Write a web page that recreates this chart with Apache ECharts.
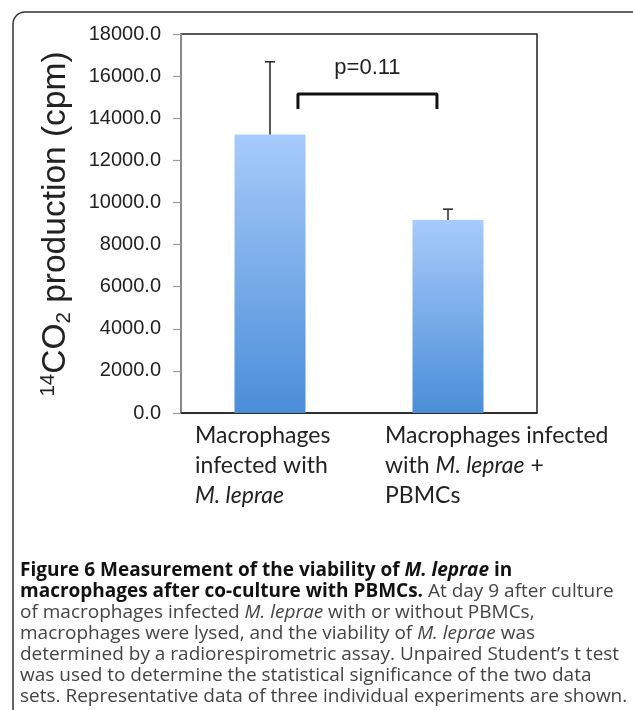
<!DOCTYPE html>
<html>
<head>
<meta charset="utf-8">
<script src="https://cdn.jsdelivr.net/npm/echarts@6/dist/echarts.min.js"></script>
<style>html,body{margin:0;padding:0;background:#fff}#c{width:633px;height:710px}</style>
</head>
<body>
<div id="c"></div>
<script>
// ---- data ----
var categories = ["Macrophages infected with M. leprae", "Macrophages infected with M. leprae + PBMCs"];
var values = [13230, 9170];
var errorUpper = [16680, 9680];
var yMin = 0, yMax = 18000, yStep = 2000;
var bracketX = [0.157, 0.938];
var bracketY = [14440, 15150];
var pLabel = "p=0.11";

var chart = echarts.init(document.getElementById('c'), null, {renderer:'canvas'});

var errData = values.map(function(v,i){ return [i, v, errorUpper[i]]; });
var bracketData = [[bracketX[0], bracketY[0]],[bracketX[0], bracketY[1]],[bracketX[1], bracketY[1]],[bracketX[1], bracketY[0]]];

var option = {
  animation:false,
  grid:{left:181, top:34, right:96, bottom:297, show:true, borderColor:'#222', borderWidth:1.5, backgroundColor:'transparent'},
  xAxis:[
    {type:'category', data:categories, axisLine:{lineStyle:{color:'#222', width:1.5}}, axisTick:{show:false}, axisLabel:{show:false}},
    {type:'value', min:-0.5, max:1.5, show:false}
  ],
  yAxis:{type:'value', min:yMin, max:yMax, interval:yStep,
    splitLine:{show:false},
    axisLine:{show:true, onZero:false, lineStyle:{color:'#9a9a9a', width:1.5}},
    axisTick:{show:true, length:8, lineStyle:{color:'#9a9a9a', width:1.2}},
    axisLabel:{margin:20, formatter:function(v){return v.toFixed(1);}, fontFamily:'Liberation Sans, Arial', fontSize:20, color:'#222'}
  },
  series:[
    {type:'bar', data:values, barWidth:71, z:2,
     itemStyle:{color:new echarts.graphic.LinearGradient(0,0,0,1,[{offset:0,color:'#a8cbfa'},{offset:1,color:'#4a8ed8'}])}},
    {type:'custom', data:errData, z:3, encode:{x:0,y:[1,2]},
     renderItem:function(params, api){
       var x = api.value(0);
       var p0 = api.coord([x, api.value(1)]);
       var p1 = api.coord([x, api.value(2)]);
       var hw = 5;
       return {type:'group', children:[
         {type:'line', shape:{x1:p0[0],y1:p0[1],x2:p1[0],y2:p1[1]}, style:{stroke:'#222', lineWidth:1.5}},
         {type:'line', shape:{x1:p1[0]-hw,y1:p1[1],x2:p1[0]+hw,y2:p1[1]}, style:{stroke:'#222', lineWidth:1.5}}
       ]};
     }},
    {type:'line', xAxisIndex:1, data:bracketData, symbol:'none', z:4,
     lineStyle:{color:'#111', width:3}}
  ],
  graphic:[]
};
chart.setOption(option);

var g = [];
g.push({type:'rect', shape:{x:13,y:12,width:720,height:760,r:12}, style:{fill:'none', stroke:'#333', lineWidth:1.5}, z:0});
var pc = chart.convertToPixel({xAxisIndex:1, yAxisIndex:0}, [(bracketX[0]+bracketX[1])/2, bracketY[1]]);
g.push({type:'text', x:pc[0], y:pc[1]-26, style:{text:pLabel, font:'22px "Liberation Sans", Arial', fill:'#222', textAlign:'center', textVerticalAlign:'middle'}});
g.push({type:'text', x:56, y:224, rotation:Math.PI/2, style:{
  text:'{sup|14}{n|CO}{sub|2}{n| production (cpm)}',
  textAlign:'center', textVerticalAlign:'middle',
  rich:{
    n:{fontFamily:'Liberation Sans', fontSize:33.5, fill:'#222', lineHeight:43},
    sup:{fontFamily:'Liberation Sans', fontSize:20.5, fill:'#222', lineHeight:43, padding:[0,0,15,0]},
    sub:{fontFamily:'Liberation Sans', fontSize:20.5, fill:'#222', lineHeight:43, padding:[17,0,0,0]}
  }}});
var offsets = [-75, -63];
var labelRich = {
  n:{fontFamily:'Lato', fontSize:23, fill:'#222', lineHeight:30},
  i:{fontFamily:'Lato', fontStyle:'italic', fontSize:23, fill:'#222', lineHeight:30}
};
categories.forEach(function(c, idx){
  var p = chart.convertToPixel({xAxisIndex:0, yAxisIndex:0}, [idx, 0]);
  var txt;
  if (idx === 0) txt = '{n|Macrophages}\n{n|infected with}\n{i|M. leprae}';
  else txt = '{n|Macrophages infected}\n{n|with }{i|M. leprae}{n| +}\n{n|PBMCs}';
  g.push({type:'text', x:p[0]+offsets[idx], y:p[1]+8, style:{text:txt, rich:labelRich, textAlign:'left', textVerticalAlign:'top'}});
});
var fs = 19;
g.push({type:'text', x:20, y:560, style:{
  text:[
    '{b|Figure 6 Measurement of the viability of }{bi|M. leprae}{b| in}',
    '{b|macrophages after co-culture with PBMCs.}{n| At day 9 after culture}',
    '{n|of macrophages infected }{i|M. leprae}{n| with or without PBMCs,}',
    '{n|macrophages were lysed, and the viability of }{i|M. leprae}{n| was}',
    '{n|determined by a radiorespirometric assay. Unpaired Student\u2019s t test}',
    '{n|was used to determine the statistical significance of the two data}',
    '{n|sets. Representative data of three individual experiments are shown.}'
  ].join('\n'),
  textAlign:'left', textVerticalAlign:'top',
  rich:{
    b:{fontFamily:'Open Sans', fontWeight:'bold', fontSize:fs, fill:'#111', lineHeight:21},
    bi:{fontFamily:'Open Sans', fontWeight:'bold', fontStyle:'italic', fontSize:fs, fill:'#111', lineHeight:21},
    n:{fontFamily:'Open Sans', fontSize:fs, fill:'#444', lineHeight:21},
    i:{fontFamily:'Open Sans', fontStyle:'italic', fontSize:fs, fill:'#444', lineHeight:21}
  }}});
chart.setOption({graphic:g});
</script>
</body>
</html>
